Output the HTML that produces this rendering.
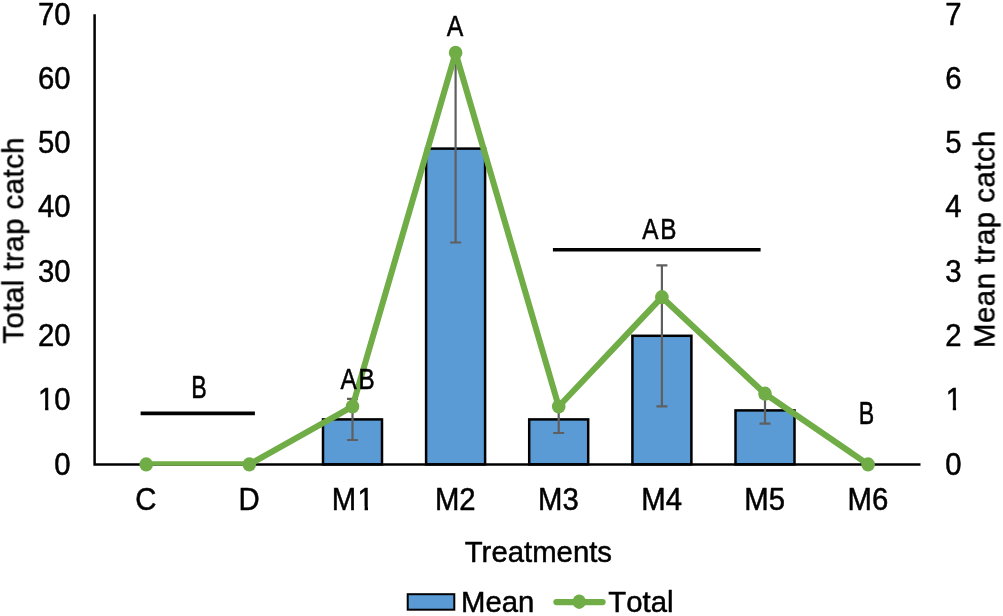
<!DOCTYPE html>
<html lang="en"><head><meta charset="utf-8"><title>Trap catch chart</title>
<style>html,body{margin:0;padding:0;background:#fff;overflow:hidden}svg{display:block}text{font-family:"Liberation Sans",Arial,sans-serif;fill:#000;font-kerning:none;stroke:#000;stroke-width:.5px;stroke-linejoin:round}</style></head><body>
<svg width="1003" height="616" viewBox="0 0 1003 616">
<rect width="1003" height="616" fill="#fff"/>
<defs><clipPath id="pc"><rect x="0" y="0" width="1003" height="465.7"/></clipPath></defs>
<g opacity="0.999">
<rect x="323.0" y="419.4" width="59" height="45.0" fill="#5b9bd5" stroke="#000" stroke-width="2.5"/>
<rect x="426.1" y="148.6" width="59" height="315.8" fill="#5b9bd5" stroke="#000" stroke-width="2.5"/>
<rect x="529.2" y="419.4" width="59" height="45.0" fill="#5b9bd5" stroke="#000" stroke-width="2.5"/>
<rect x="632.4" y="335.8" width="59" height="128.6" fill="#5b9bd5" stroke="#000" stroke-width="2.5"/>
<rect x="735.5" y="410.4" width="59" height="54.0" fill="#5b9bd5" stroke="#000" stroke-width="2.5"/>
<path d="M94.6 14.2V464.4H920.5" fill="none" stroke="#000" stroke-width="2.5"/>
<path d="M352.5 398.8V440.0M347.0 398.8h11M347.0 440.0h11" fill="none" stroke="#5f5f5f" stroke-width="2.2"/>
<path d="M455.6 54.7V242.5M450.1 54.7h11M450.1 242.5h11" fill="none" stroke="#5f5f5f" stroke-width="2.2"/>
<path d="M558.7 405.8V433.0M553.2 405.8h11M553.2 433.0h11" fill="none" stroke="#5f5f5f" stroke-width="2.2"/>
<path d="M661.9 265.3V406.3M656.4 265.3h11M656.4 406.3h11" fill="none" stroke="#5f5f5f" stroke-width="2.2"/>
<path d="M765.0 397.1V423.7M759.5 397.1h11M759.5 423.7h11" fill="none" stroke="#5f5f5f" stroke-width="2.2"/>
<polyline points="146.2,464.4 249.3,464.4 352.5,406.5 455.6,52.8 558.7,406.5 661.9,297.2 765.0,393.7 868.1,464.4" fill="none" stroke="#70ad47" stroke-width="6.1" stroke-linejoin="round" stroke-linecap="round" clip-path="url(#pc)"/>
<ellipse cx="146.2" cy="464.4" rx="6.8" ry="7.1" fill="#70ad47"/>
<ellipse cx="249.3" cy="464.4" rx="6.8" ry="7.1" fill="#70ad47"/>
<ellipse cx="352.5" cy="406.5" rx="6.8" ry="7.1" fill="#70ad47"/>
<ellipse cx="455.6" cy="52.8" rx="6.8" ry="7.1" fill="#70ad47"/>
<ellipse cx="558.7" cy="406.5" rx="6.8" ry="7.1" fill="#70ad47"/>
<ellipse cx="661.9" cy="297.2" rx="6.8" ry="7.1" fill="#70ad47"/>
<ellipse cx="765.0" cy="393.7" rx="6.8" ry="7.1" fill="#70ad47"/>
<ellipse cx="868.1" cy="464.4" rx="6.8" ry="7.1" fill="#70ad47"/>
<path d="M140.6 413.4H254.9M552.9 249.8H760.6" stroke="#000" stroke-width="3.6" fill="none"/>
<text transform="translate(70.50 474.70) scale(1.0000 1.0450)" font-size="29.33" text-anchor="end">0</text>
<text transform="translate(70.50 410.39) scale(1.0000 1.0450)" font-size="29.33" text-anchor="end">10</text>
<text transform="translate(70.50 346.07) scale(1.0000 1.0450)" font-size="29.33" text-anchor="end">20</text>
<text transform="translate(70.50 281.76) scale(1.0000 1.0450)" font-size="29.33" text-anchor="end">30</text>
<text transform="translate(70.50 217.44) scale(1.0000 1.0450)" font-size="29.33" text-anchor="end">40</text>
<text transform="translate(70.50 153.13) scale(1.0000 1.0450)" font-size="29.33" text-anchor="end">50</text>
<text transform="translate(70.50 88.81) scale(1.0000 1.0450)" font-size="29.33" text-anchor="end">60</text>
<text transform="translate(70.50 24.50) scale(1.0000 1.0450)" font-size="29.33" text-anchor="end">70</text>
<text transform="translate(953.30 474.70) scale(1.0000 1.0450)" font-size="29.33" text-anchor="middle">0</text>
<text transform="translate(953.90 410.39) scale(1.0000 1.0450)" font-size="29.33" text-anchor="middle">1</text>
<text transform="translate(953.30 346.07) scale(1.0000 1.0450)" font-size="29.33" text-anchor="middle">2</text>
<text transform="translate(953.30 281.76) scale(1.0000 1.0450)" font-size="29.33" text-anchor="middle">3</text>
<text transform="translate(953.30 217.44) scale(1.0000 1.0450)" font-size="29.33" text-anchor="middle">4</text>
<text transform="translate(953.30 153.13) scale(1.0000 1.0450)" font-size="29.33" text-anchor="middle">5</text>
<text transform="translate(953.30 88.81) scale(1.0000 1.0450)" font-size="29.33" text-anchor="middle">6</text>
<text transform="translate(953.30 24.50) scale(1.0000 1.0450)" font-size="29.33" text-anchor="middle">7</text>
<text transform="translate(145.87 509.80) scale(1.0000 1.0450)" font-size="29.33" text-anchor="middle">C</text>
<text transform="translate(249.01 509.80) scale(1.0000 1.0450)" font-size="29.33" text-anchor="middle">D</text>
<text transform="translate(352.75 509.80) scale(1.0000 1.0450)" font-size="29.33" text-anchor="middle">M<tspan dx="1.2">1</tspan></text>
<text transform="translate(455.29 509.80) scale(1.0000 1.0450)" font-size="29.33" text-anchor="middle">M2</text>
<text transform="translate(558.43 509.80) scale(1.0000 1.0450)" font-size="29.33" text-anchor="middle">M3</text>
<text transform="translate(661.57 509.80) scale(1.0000 1.0450)" font-size="29.33" text-anchor="middle">M4</text>
<text transform="translate(764.71 509.80) scale(1.0000 1.0450)" font-size="29.33" text-anchor="middle">M5</text>
<text transform="translate(867.85 509.80) scale(1.0000 1.0450)" font-size="29.33" text-anchor="middle">M6</text>
<path fill="#fff" d="M947.0 406.4H952.8V411.2H947.0ZM956.1 406.4H963.0V411.2H956.1ZM38.5 406.4H45.1V411.2H38.5ZM48.4 406.4H55.0V411.2H48.4ZM357.5 506.4H364.6V511.2H357.5ZM368.0 506.4H374.0V511.2H368.0Z"/>
<text transform="translate(23.60 240.30) rotate(-90) scale(1.0000 1.0100)" font-size="29.33" text-anchor="middle" letter-spacing="0.50" style="font-kerning:normal">Total trap catch</text>
<text transform="translate(994.80 239.00) rotate(-90) scale(1.0000 1.0100)" font-size="29.33" text-anchor="middle" letter-spacing="0.50" style="font-kerning:normal">Mean trap catch</text>
<text transform="translate(538.40 562.00) scale(1.0000 1.0150)" font-size="29.33" text-anchor="middle" style="font-kerning:normal">Treatments</text>
<text transform="translate(199.10 398.10) scale(0.8400 1.1200)" font-size="27.60" text-anchor="middle">B</text>
<text transform="translate(358.40 388.60) scale(0.8800 1.1000)" font-size="27.60" text-anchor="middle" letter-spacing="2.00">AB</text>
<text transform="translate(455.00 35.90) scale(0.9000 1.1000)" font-size="27.60" text-anchor="middle">A</text>
<text transform="translate(660.20 238.90) scale(0.8800 1.1000)" font-size="27.60" text-anchor="middle" letter-spacing="2.00">AB</text>
<text transform="translate(866.40 423.80) scale(0.8400 1.1200)" font-size="27.60" text-anchor="middle">B</text>
<rect x="407.7" y="594.2" width="46.6" height="15.5" fill="#5b9bd5" stroke="#000" stroke-width="2"/>
<text transform="translate(461.00 611.90) scale(1.0000 1.0150)" font-size="29.33">Mean</text>
<path d="M556.4 602.1H602.6" stroke="#70ad47" stroke-width="6.2" stroke-linecap="round" fill="none"/>
<ellipse cx="579.2" cy="601.7" rx="6.6" ry="7.2" fill="#70ad47"/>
<text transform="translate(608.30 611.90) scale(1.0000 1.0150)" font-size="29.33">Total</text>
</g>
</svg></body></html>
